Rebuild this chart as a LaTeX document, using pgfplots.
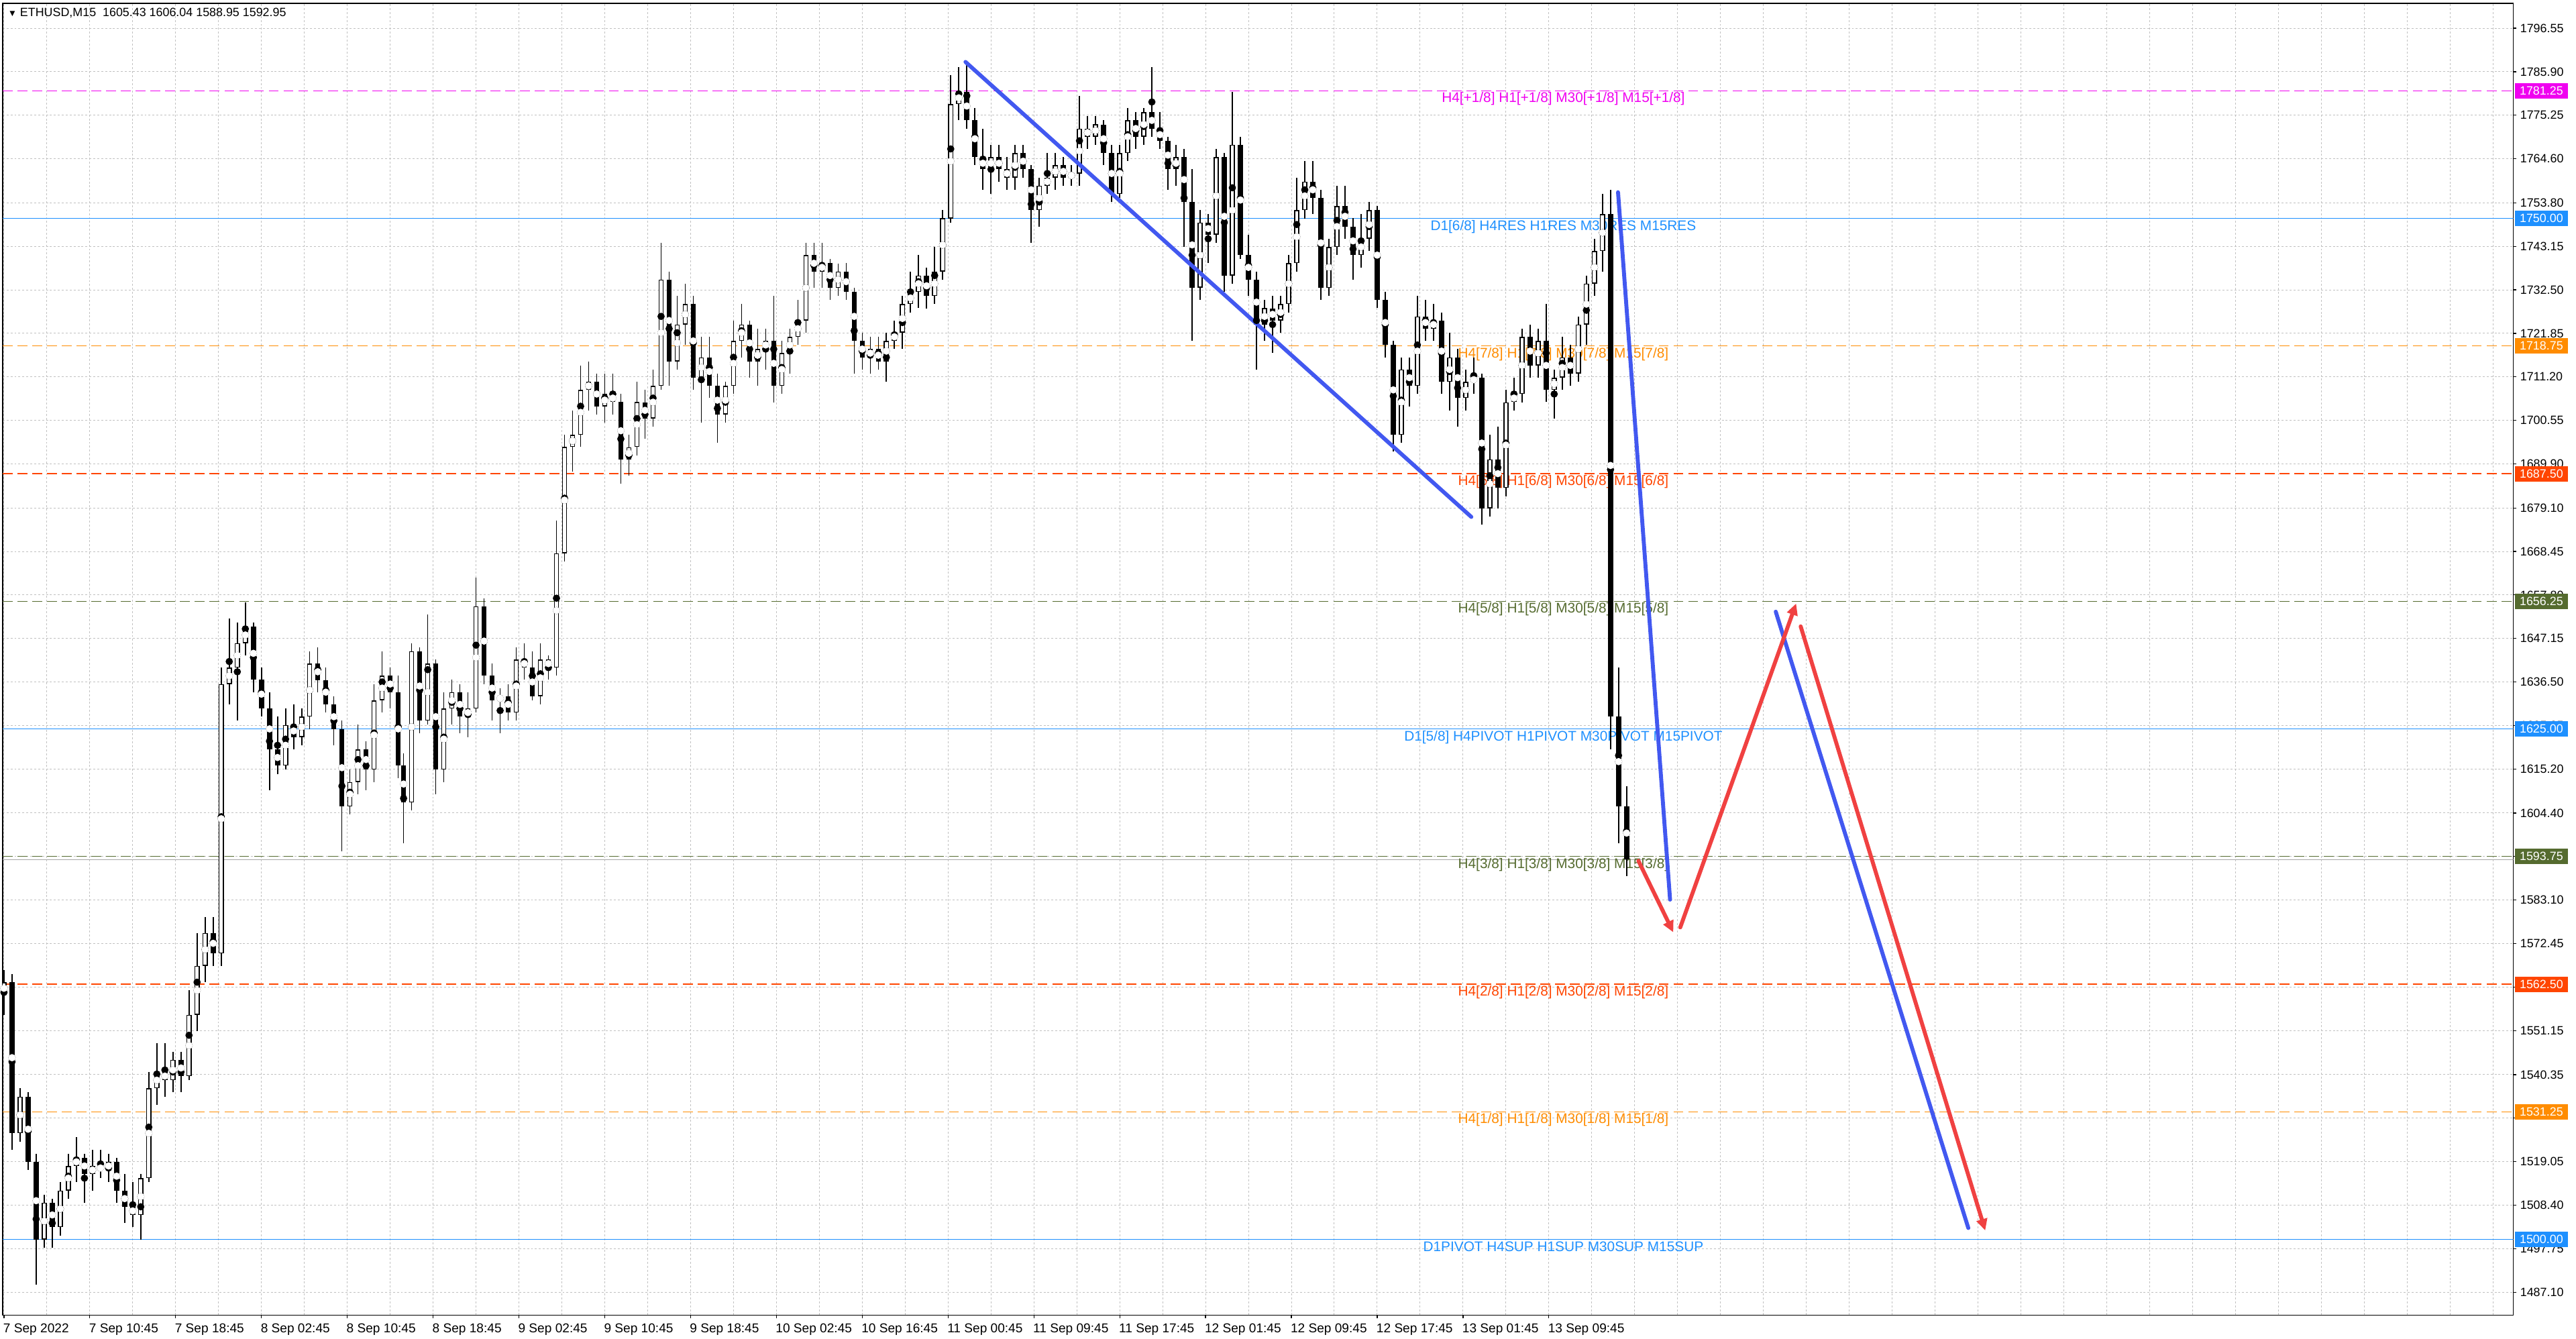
\documentclass[border=0pt]{standalone}
\usepackage{fontspec}
\setmainfont{Liberation Sans}
\usepackage{graphicx}
\usepackage{pgfplots}
\usepackage{pgfplotstable}
\pgfplotsset{compat=1.18}
\usetikzlibrary{arrows.meta}

\definecolor{dodger}{RGB}{30,144,255}
\definecolor{dorange}{RGB}{255,140,0}
\definecolor{ored}{RGB}{255,69,0}
\definecolor{dolive}{RGB}{85,107,47}
\definecolor{lmag}{RGB}{240,0,240}
\definecolor{tblue}{RGB}{66,88,240}
\definecolor{tred}{RGB}{240,65,65}
\definecolor{gridgray}{RGB}{192,192,192}

\newcommand\xtk{\fontsize{7.8}{8}\selectfont}
\newcommand\ytk{\fontsize{7.3}{8}\selectfont}
\newcommand\lv{\fontsize{8.5}{9}\selectfont}

\pgfplotstableread{
x o h l c
0 1560 1566 1555 1563
3 1563 1565 1522 1526
6 1526 1537 1524 1535
9 1535 1536 1517 1519
12 1519 1521 1489 1500
15 1500 1511 1498 1509
18 1509 1510 1498 1503
21 1503 1514 1501 1512
24 1512 1521 1510 1518
27 1518 1525 1514 1520
30 1520 1521 1509 1516
33 1516 1522 1512 1518
36 1518 1522 1515 1517
39 1517 1521 1514 1519
42 1519 1520 1509 1512
45 1512 1516 1504 1508
48 1508 1514 1503 1506
51 1506 1516 1500 1515
54 1515 1541 1514 1537
57 1537 1548 1533 1541
60 1541 1548 1535 1539
63 1539 1546 1536 1544
66 1544 1546 1536 1540
69 1540 1561 1539 1555
72 1555 1575 1551 1567
75 1567 1579 1563 1575
78 1575 1579 1567 1570
81 1570 1640 1567 1636
84 1636 1652 1631 1640
87 1640 1651 1627 1646
90 1646 1656 1643 1650
93 1650 1651 1634 1637
96 1637 1640 1628 1630
99 1630 1634 1610 1620
102 1620 1628 1614 1616
105 1616 1630 1615 1626
108 1626 1631 1620 1623
111 1623 1630 1621 1628
114 1628 1644 1625 1641
117 1641 1645 1634 1637
120 1637 1640 1629 1631
123 1631 1633 1621 1625
126 1625 1627 1595 1606
129 1606 1615 1604 1612
132 1612 1626 1609 1620
135 1620 1622 1610 1615
138 1615 1636 1612 1632
141 1632 1644 1629 1638
144 1638 1640 1630 1634
147 1634 1638 1613 1616
149 1616 1619 1597 1607
152 1607 1646 1605 1644
155 1644 1645 1624 1627
158 1627 1653 1626 1641
161 1641 1642 1609 1615
164 1615 1634 1612 1630
167 1630 1637 1626 1634
170 1634 1636 1624 1628
173 1628 1634 1623 1630
176 1630 1662 1629 1655
179 1655 1657 1636 1638
182 1638 1641 1627 1632
185 1632 1635 1624 1633
188 1633 1636 1627 1629
191 1629 1645 1627 1642
194 1642 1646 1637 1640
197 1640 1644 1632 1633
200 1633 1646 1631 1642
203 1642 1643 1637 1640
206 1640 1676 1638 1668
209 1668 1697 1666 1694
212 1694 1703 1688 1697
215 1697 1714 1694 1708
218 1708 1715 1703 1710
221 1710 1712 1702 1704
224 1704 1712 1700 1707
227 1707 1712 1702 1705
230 1705 1707 1685 1691
233 1691 1697 1687 1694
236 1694 1710 1692 1705
239 1705 1708 1696 1701
242 1701 1713 1699 1709
245 1709 1744 1708 1735
248 1735 1737 1709 1715
251 1715 1731 1713 1724
254 1724 1734 1719 1729
257 1729 1731 1708 1711
260 1711 1721 1700 1716
263 1716 1721 1706 1709
266 1709 1712 1695 1702
269 1702 1710 1700 1709
272 1709 1725 1707 1720
275 1720 1729 1716 1724
278 1724 1725 1711 1715
281 1715 1723 1709 1718
284 1718 1723 1713 1720
287 1720 1731 1705 1709
290 1709 1720 1707 1717
293 1717 1723 1712 1721
296 1721 1730 1719 1725
299 1725 1744 1722 1741
302 1741 1744 1733 1737
305 1737 1744 1733 1739
308 1739 1740 1730 1733
311 1733 1739 1731 1737
314 1737 1739 1730 1732
317 1732 1733 1712 1720
320 1720 1722 1713 1716
323 1716 1721 1712 1718
326 1718 1721 1713 1715
329 1715 1722 1710 1720
332 1720 1725 1718 1722
335 1722 1731 1718 1729
338 1729 1737 1727 1732
341 1732 1741 1728 1736
344 1736 1738 1728 1731
347 1731 1743 1729 1737
350 1737 1752 1735 1750
353 1750 1785 1749 1778
356 1778 1787 1774 1781
359 1781 1788 1772 1774
362 1774 1777 1763 1765
365 1765 1772 1757 1762
368 1762 1768 1756 1765
371 1765 1768 1759 1762
374 1762 1765 1757 1760
377 1760 1768 1757 1766
380 1766 1768 1760 1762
383 1762 1763 1744 1752
386 1752 1760 1748 1758
389 1758 1766 1756 1760
392 1760 1766 1757 1763
395 1763 1765 1758 1760
398 1760 1763 1758 1761
401 1761 1780 1758 1772
404 1772 1775 1767 1770
407 1770 1775 1768 1773
410 1773 1774 1763 1766
413 1766 1768 1754 1756
416 1756 1768 1755 1766
419 1766 1777 1764 1774
422 1774 1776 1767 1770
425 1770 1777 1768 1776
428 1776 1787 1770 1772
431 1772 1776 1767 1769
434 1769 1770 1757 1762
437 1762 1768 1758 1765
440 1765 1767 1743 1754
443 1754 1762 1720 1733
446 1733 1752 1730 1749
449 1749 1751 1739 1746
452 1746 1767 1744 1765
455 1765 1766 1732 1736
458 1736 1781 1734 1768
461 1768 1770 1740 1741
464 1741 1746 1731 1735
467 1735 1737 1713 1724
470 1724 1730 1720 1728
473 1728 1731 1717 1725
476 1725 1731 1722 1729
479 1729 1741 1727 1739
482 1739 1760 1737 1752
485 1752 1764 1750 1759
488 1759 1764 1751 1755
491 1755 1757 1730 1733
494 1733 1745 1731 1743
497 1743 1758 1741 1753
500 1753 1758 1745 1748
503 1748 1750 1735 1741
506 1741 1751 1738 1745
509 1745 1754 1742 1752
512 1752 1753 1728 1730
515 1730 1732 1716 1719
518 1719 1720 1693 1697
521 1697 1716 1695 1713
524 1713 1716 1704 1709
527 1709 1731 1707 1726
530 1726 1730 1720 1723
533 1723 1729 1720 1725
536 1725 1727 1707 1710
539 1710 1722 1703 1716
542 1716 1718 1699 1706
545 1706 1713 1703 1710
548 1710 1716 1707 1711
551 1711 1712 1675 1679
554 1679 1697 1677 1691
557 1691 1699 1679 1684
560 1684 1708 1682 1705
563 1705 1711 1703 1707
566 1707 1723 1705 1721
569 1721 1724 1711 1714
572 1714 1723 1711 1720
575 1720 1729 1705 1708
578 1708 1713 1701 1711
581 1711 1721 1708 1716
584 1716 1719 1709 1712
587 1712 1726 1710 1724
590 1724 1736 1719 1734
593 1734 1745 1731 1742
596 1742 1756 1737 1751
599 1751 1757 1620 1628
602 1628 1640 1597 1606
605 1606 1611 1589 1593
}\candles

\begin{document}
\begin{tikzpicture}
\path[use as bounding box] (-1.6pt,-14.5pt) rectangle (1566.4pt,800.5pt);
\begin{axis}[
  at={(0pt,0pt)}, anchor=south west,
  scale only axis, width=1528.2pt, height=798.4pt,
  xmin=-0.5, xmax=935.6, ymin=1481.47, ymax=1802.62,
  axis line style={line width=0.6pt, black},
  tick style={black, line width=0.5pt},
  tick align=outside, major tick length=2pt,
  xtick pos=left, xticklabel pos=left,
  ytick pos=right, yticklabel pos=right,
  xtick={0,32,...,576},
  xticklabels={7 Sep 2022,7 Sep 10:45,7 Sep 18:45,8 Sep 02:45,8 Sep 10:45,8 Sep 18:45,9 Sep 02:45,9 Sep 10:45,9 Sep 18:45,10 Sep 02:45,10 Sep 16:45,11 Sep 00:45,11 Sep 09:45,11 Sep 17:45,12 Sep 01:45,12 Sep 09:45,12 Sep 17:45,13 Sep 01:45,13 Sep 09:45},
  extra x ticks={16,48,80,112,144,176,208,240,272,304,336,368,400,432,464,496,528,560,592,608,624,640,656,672,688,704,720,736,752,768,784,800,816,832,848,864,880,896,912,928},
  extra x tick labels={},
  extra x tick style={major tick length=0pt, grid=major},
  ytick={1487.10,1497.75,1508.40,1519.05,1529.70,1540.35,1551.15,1561.80,1572.45,1583.10,1593.75,1604.40,1615.20,1625.85,1636.50,1647.15,1657.80,1668.45,1679.10,1689.90,1700.55,1711.20,1721.85,1732.50,1743.15,1753.80,1764.60,1775.25,1785.90,1796.55},
  yticklabels={1487.10,1497.75,1508.40,1519.05,{},1540.35,1551.15,{},1572.45,1583.10,{},1604.40,1615.20,1625.85,1636.50,1647.15,1657.80,1668.45,1679.10,1689.90,1700.55,1711.20,1721.85,1732.50,1743.15,1753.80,1764.60,1775.25,1785.90,1796.55},
  grid=major,
  major grid style={color=gridgray, line width=0.4pt, dash pattern=on 1.2pt off 1.2pt},
  xticklabel style={font=\xtk, anchor=north west, inner sep=0pt, yshift=-2.8pt, xshift=-0.6pt},
  yticklabel style={font=\ytk, anchor=west, inner sep=0pt, xshift=2pt},
]
% level lines
\addplot[lmag, line width=0.5pt, dash pattern=on 6pt off 3pt, forget plot] coordinates {(-0.5,1781.25) (935.6,1781.25)};
\addplot[dodger, line width=0.45pt, forget plot] coordinates {(-0.5,1750) (935.6,1750)};
\addplot[dorange, line width=0.5pt, dash pattern=on 6pt off 3pt, forget plot] coordinates {(-0.5,1718.75) (935.6,1718.75)};
\addplot[ored, line width=0.5pt, dash pattern=on 6pt off 3pt, forget plot] coordinates {(-0.5,1687.5) (935.6,1687.5)};
\addplot[dolive, line width=0.5pt, dash pattern=on 6pt off 3pt, forget plot] coordinates {(-0.5,1656.25) (935.6,1656.25)};
\addplot[dodger, line width=0.45pt, forget plot] coordinates {(-0.5,1625) (935.6,1625)};
\addplot[dolive, line width=0.5pt, dash pattern=on 6pt off 3pt, forget plot] coordinates {(-0.5,1593.75) (935.6,1593.75)};
\addplot[gray!70, line width=0.4pt, forget plot] coordinates {(-0.5,1592.95) (935.6,1592.95)};
\addplot[ored, line width=0.5pt, dash pattern=on 6pt off 3pt, forget plot] coordinates {(-0.5,1562.5) (935.6,1562.5)};
\addplot[dorange, line width=0.5pt, dash pattern=on 6pt off 3pt, forget plot] coordinates {(-0.5,1531.25) (935.6,1531.25)};
\addplot[dodger, line width=0.45pt, forget plot] coordinates {(-0.5,1500) (935.6,1500)};

% level texts
\node[anchor=base, font=\lv, text=lmag, inner sep=0pt, yshift=-7.2pt] at (axis cs:581.4,1781.25) {H4[+1/8] H1[+1/8] M30[+1/8] M15[+1/8]};
\node[anchor=base, font=\lv, text=dodger, inner sep=0pt, yshift=-7.2pt] at (axis cs:581.4,1750) {D1[6/8] H4RES H1RES M30RES M15RES};
\node[anchor=base, font=\lv, text=dorange, inner sep=0pt, yshift=-7.2pt] at (axis cs:581.4,1718.75) {H4[7/8] H1[7/8] M30[7/8] M15[7/8]};
\node[anchor=base, font=\lv, text=ored, inner sep=0pt, yshift=-7.2pt] at (axis cs:581.4,1687.5) {H4[6/8] H1[6/8] M30[6/8] M15[6/8]};
\node[anchor=base, font=\lv, text=dolive, inner sep=0pt, yshift=-7.2pt] at (axis cs:581.4,1656.25) {H4[5/8] H1[5/8] M30[5/8] M15[5/8]};
\node[anchor=base, font=\lv, text=dodger, inner sep=0pt, yshift=-7.2pt] at (axis cs:581.4,1625) {D1[5/8] H4PIVOT H1PIVOT M30PIVOT M15PIVOT};
\node[anchor=base, font=\lv, text=dolive, inner sep=0pt, yshift=-7.2pt] at (axis cs:581.4,1593.75) {H4[3/8] H1[3/8] M30[3/8] M15[3/8]};
\node[anchor=base, font=\lv, text=ored, inner sep=0pt, yshift=-7.2pt] at (axis cs:581.4,1562.5) {H4[2/8] H1[2/8] M30[2/8] M15[2/8]};
\node[anchor=base, font=\lv, text=dorange, inner sep=0pt, yshift=-7.2pt] at (axis cs:581.4,1531.25) {H4[1/8] H1[1/8] M30[1/8] M15[1/8]};
\node[anchor=base, font=\lv, text=dodger, inner sep=0pt, yshift=-7.2pt] at (axis cs:581.4,1500) {D1PIVOT H4SUP H1SUP M30SUP M15SUP};

% candles: wicks
\addplot[black, only marks, mark=none, forget plot,
  error bars/.cd, y dir=both, y explicit, error mark=none,
  error bar style={line width=0.65pt, black}]
  table[x=x, y expr={(\thisrow{h}+\thisrow{l})/2}, y error expr={(\thisrow{h}-\thisrow{l})/2}] {\candles};
% bodies
\addplot[black, only marks, mark=none, forget plot,
  error bars/.cd, y dir=both, y explicit, error mark=none,
  error bar style={line width=3.1pt, black}]
  table[x=x, y expr={(\thisrow{o}+\thisrow{c})/2}, y error expr={max(abs(\thisrow{c}-\thisrow{o})/2,0.2)}] {\candles};
% white inside of bullish bodies
\addplot[white, only marks, mark=none, forget plot,
  error bars/.cd, y dir=both, y explicit, error mark=none,
  error bar style={line width=1.9pt, white}]
  table[x=x, y expr={(\thisrow{o}+\thisrow{c})/2}, y error expr={max((\thisrow{c}-\thisrow{o})/2-0.25,0)}] {\candles};

% drawn trend lines and arrows
\addplot[tblue, line width=2.4pt, line cap=round, forget plot] coordinates {(358.5,1788.3) (547.1,1676.9)};
\addplot[tblue, line width=2.4pt, line cap=round, forget plot] coordinates {(601.8,1756.4) (621.2,1583.2)};
\addplot[tblue, line width=2.4pt, line cap=round, forget plot] coordinates {(660.6,1653.7) (732.4,1502.8)};
\addplot[tred, line width=2.4pt, line cap=round, forget plot, -{Triangle[length=7pt,width=6.5pt]}] coordinates {(609.4,1592.7) (622.4,1575.2)};
\addplot[tred, line width=2.4pt, line cap=round, forget plot, -{Triangle[length=7pt,width=6.5pt]}] coordinates {(625.0,1576.4) (668.2,1655.7)};
\addplot[tred, line width=2.4pt, line cap=round, forget plot, -{Triangle[length=7pt,width=6.5pt]}] coordinates {(669.9,1650.1) (738.7,1502.2)};

% title
\node[anchor=north west, inner sep=0pt, font=\ytk] at (rel axis cs:0,1) [xshift=3pt, yshift=-2.6pt] {\scalebox{0.75}{▼}\ ETHUSD,M15\ \ 1605.43 1606.04 1588.95 1592.95};

\coordinate (b1) at (axis cs:935.6,1781.25);
\coordinate (b2) at (axis cs:935.6,1750);
\coordinate (b3) at (axis cs:935.6,1718.75);
\coordinate (b4) at (axis cs:935.6,1687.5);
\coordinate (b5) at (axis cs:935.6,1656.25);
\coordinate (b6) at (axis cs:935.6,1625);
\coordinate (b7) at (axis cs:935.6,1593.75);
\coordinate (b8) at (axis cs:935.6,1562.5);
\coordinate (b9) at (axis cs:935.6,1531.25);
\coordinate (b10) at (axis cs:935.6,1500);
\end{axis}
\tikzset{pbox/.style={anchor=west, xshift=0.6pt, minimum width=32.6pt, minimum height=9.4pt, inner sep=0pt, text=white, font=\ytk}}
\node[pbox, fill=lmag] at (b1) {1781.25};
\node[pbox, fill=dodger] at (b2) {1750.00};
\node[pbox, fill=dorange] at (b3) {1718.75};
\node[pbox, fill=ored] at (b4) {1687.50};
\node[pbox, fill=dolive] at (b5) {1656.25};
\node[pbox, fill=dodger] at (b6) {1625.00};
\node[pbox, fill=dolive] at (b7) {1593.75};
\node[pbox, fill=ored] at (b8) {1562.50};
\node[pbox, fill=dorange] at (b9) {1531.25};
\node[pbox, fill=dodger] at (b10) {1500.00};
\end{tikzpicture}
\end{document}
